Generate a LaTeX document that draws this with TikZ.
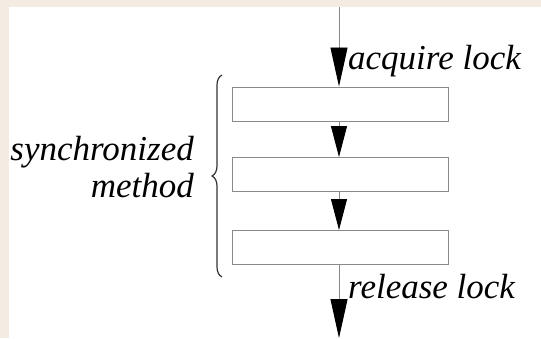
\documentclass[tikz,border=0pt]{standalone}
\usepackage{fontspec}
\setmainfont{Liberation Serif}[ItalicFont={Liberation Serif Italic}]
\usetikzlibrary{arrows.meta,decorations.pathreplacing}
\definecolor{beige}{HTML}{F4ECE2}
\definecolor{boxline}{HTML}{8A8A8A}
\tikzset{
  stepbox/.style={draw=boxline, line width=1pt, fill=white, minimum width=216pt, minimum height=34pt, inner sep=0pt},
  flow/.style={draw=boxline, line width=0.9pt, -{Triangle[length=39pt,width=17pt,fill=black,color=black]}},
  shortflow/.style={draw=boxline, line width=0.9pt, -{Triangle[length=31pt,width=16pt,fill=black,color=black]}},
  lbl/.style={font=\fontsize{35}{38}\selectfont\itshape, inner sep=0pt, text=black}
}
\begin{document}
\begin{tikzpicture}[x=1pt,y=-1pt]
\useasboundingbox (0,0) rectangle (541,338);
\fill[beige] (0,0) rectangle (541,338);
\fill[white] (8.5,6.5) rectangle (541,338);
\node[stepbox] (b1) at (340,104) {};
\node[stepbox] (b2) at (340,174.5) {};
\node[stepbox] (b3) at (340,247.5) {};
\coordinate (top) at (339,7);
\coordinate (bot) at (339,338);
\draw[flow] (top) -- (b1.north -| top);
\draw[shortflow] (b1.south -| top) -- (b2.north -| top);
\draw[shortflow] (b2.south -| top) -- (b3.north -| top);
\draw[flow] (b3.south -| top) -- (bot);
\node[lbl, anchor=base west] (acq) at (348,69) {acquire lock};
\node[lbl, anchor=base west] (rel) at (348,298) {release lock};
\node[lbl, anchor=base east] (syn) at (194,160) {synchronized};
\node[lbl, anchor=base east] (met) at (194,197) {method};
\coordinate (bt) at (222,75);
\coordinate (bb) at (222,277);
\draw[black!80, line width=1.2pt, decorate, decoration={brace, amplitude=10pt, mirror}] (bt) -- (bb);
\end{tikzpicture}
\end{document}
